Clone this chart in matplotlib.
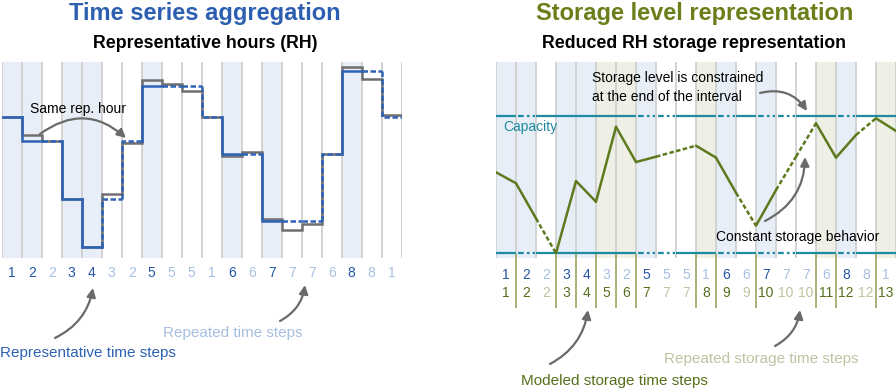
import matplotlib
matplotlib.use("Agg")
import matplotlib.pyplot as plt
from matplotlib.transforms import blended_transform_factory as blend
import numpy as np

# ---------------- data ----------------
rh_labels = [1, 2, 2, 3, 4, 3, 2, 5, 5, 5, 1, 6, 6, 7, 7, 7, 6, 8, 8, 1]
rep_values = [141, 117, 59, 11, 172, 104, 37, 187]          # value of each representative hour 1..8
orig_values = [141, 123, 117, 59, 11, 64, 115, 178, 174, 167,
               141, 102, 106, 39, 28, 34, 104, 191, 179, 143]
storage_labels = [1, 2, 2, 3, 4, 5, 6, 7, 7, 7, 8, 9, 9, 10, 10, 10, 11, 12, 12, 13]
storage_level = [58.9, 50.9, 25.4, 0.0, 52.5, 37.5, 91.9, 66.3, 70.2, 74.2, 78.2,
                 69.5, 44.0, 20.1, 46.0, 70.2, 94.5, 69.5, 86.0, 98.1, 88.9]
capacity = 100
min_level = 0
cap_dashed_slots = [1, 7, 8, 11, 13, 14, 17]

# ---------------- style ----------------
BLUE = '#2e62b5'
BLUE_DARK = '#2456a6'
BLUE_LIGHT = '#a6bfe0'
GRAY = '#6f6f6f'
OLIVE = '#5e7a1e'
OLIVE_TITLE = '#6a7f1a'
OLIVE_DARK = '#55701a'
OLIVE_LIGHT = '#bcc4a0'
OLIVE_SEP = '#a3ad6e'
TEAL = '#1d8ba0'
SHADE_B = '#e7eef7'
SHADE_O = '#eef0e5'
VLINE = '#d3d3d3'
ARROW = '#6a6a6a'
NARROW = ['Liberation Sans Narrow', 'Liberation Sans', 'DejaVu Sans']
SANS = ['Liberation Sans', 'DejaVu Sans']

plt.rcParams['font.family'] = SANS

W, H = 896, 389
fig = plt.figure(figsize=(W / 100, H / 100), dpi=100)

def first_flags(labels):
    seen, out = set(), []
    for l in labels:
        out.append(l not in seen)
        seen.add(l)
    return out

rh_first = first_flags(rh_labels)
st_first = first_flags(storage_labels)
n = len(rh_labels)

# overlay axes in pixel coordinates for titles / annotations
ax_o = fig.add_axes([0, 0, 1, 1], zorder=10)
ax_o.set_xlim(0, W)
ax_o.set_ylim(H, 0)
ax_o.axis('off')
ax_o.patch.set_alpha(0)

def panel(x0):
    ax = fig.add_axes([x0 / W, (H - 258) / H, 400 / W, 196 / H])
    ax.set_xlim(0, n)
    for s in ax.spines.values():
        s.set_visible(False)
    ax.set_xticks([])
    ax.set_yticks([])
    return ax

# ---------------- left panel ----------------
axL = panel(1.7)
axL.set_ylim(0, 196)
for i in range(n):
    if rh_first[i]:
        axL.axvspan(i, i + 1, color=SHADE_B, lw=0, zorder=0)
axL.vlines(np.arange(n + 1), 0, 196, color=VLINE, lw=1.4, zorder=1)
axL.stairs(orig_values, np.arange(n + 1), baseline=None, color=GRAY, lw=1.8, zorder=2)
prev = None
for i, lab in enumerate(rh_labels):
    v = rep_values[lab - 1]
    xs, ys = ([i, i + 1], [v, v]) if prev is None else ([i, i, i + 1], [prev, v, v])
    ls = '-' if rh_first[i] else (0, (2.2, 1.0))
    axL.plot(xs, ys, color=BLUE, lw=1.8, ls=ls, solid_joinstyle='miter', zorder=3)
    prev = v

trL = blend(axL.transData, ax_o.transData)
for i, lab in enumerate(rh_labels):
    ax_o.text(i + 0.5, 273, str(lab), transform=trL, ha='center', va='center',
              fontsize=10, color=BLUE_DARK if rh_first[i] else BLUE_LIGHT)

# ---------------- right panel ----------------
axR = panel(496)
axR.set_ylim(-3.4, 139)
for i in range(n):
    if rh_first[i]:
        axR.axvspan(i, i + 1, color=SHADE_B, lw=0, zorder=0)
    elif st_first[i]:
        axR.axvspan(i, i + 1, color=SHADE_O, lw=0, zorder=0)
axR.vlines(np.arange(n + 1), -3.4, 139, color=VLINE, lw=1.4, zorder=1)

for lvl in (capacity, min_level):
    for i in range(n):
        if i in cap_dashed_slots:
            axR.plot([i + 0.1, i + 1 - 0.05], [lvl, lvl], color=TEAL, lw=1.6,
                     ls=(0, (2.6, 1.4, 1.2, 1.4)), zorder=2)
        else:
            axR.plot([i, i + 1], [lvl, lvl], color=TEAL, lw=1.6, zorder=2,
                     solid_capstyle='butt')

for i in range(n):
    ls = '-' if st_first[i] else (0, (1.8, 1.0))
    axR.plot([i, i + 1], [storage_level[i], storage_level[i + 1]], color=OLIVE,
             lw=1.8, ls=ls, zorder=3, solid_capstyle='round')

axR.text(0.35, capacity - 8, 'Capacity', color=TEAL, fontsize=10, va='center', ha='left')

trR = blend(axR.transData, ax_o.transData)
for i in range(n):
    ax_o.text(i + 0.5, 275, str(rh_labels[i]), transform=trR, ha='center', va='center',
              fontsize=10, color=BLUE_DARK if rh_first[i] else BLUE_LIGHT)
    ax_o.text(i + 0.5, 293, str(storage_labels[i]), transform=trR, ha='center', va='center',
              fontsize=10, color=OLIVE_DARK if st_first[i] else OLIVE_LIGHT)
sep = [i for i in range(1, n) if st_first[i]]
ax_o.vlines(sep, 254, 308, transform=trR, color=OLIVE_SEP, lw=1.3)

# ---------------- titles ----------------
ax_o.text(205, 13, 'Time series aggregation', ha='center', va='center', fontsize=17,
          fontweight='bold', color='#2d5fb1', family=NARROW)
ax_o.text(205, 43, 'Representative hours (RH)', ha='center', va='center', fontsize=12.8,
          fontweight='bold', color='black', family=NARROW)
ax_o.text(695, 13, 'Storage level representation', ha='center', va='center', fontsize=17,
          fontweight='bold', color=OLIVE_TITLE, family=NARROW)
ax_o.text(694, 43, 'Reduced RH storage representation', ha='center', va='center', fontsize=12.8,
          fontweight='bold', color='black', family=NARROW)

# ---------------- annotations ----------------
def arrow(start, end, rad):
    ax_o.annotate('', xy=end, xytext=start,
                  arrowprops=dict(arrowstyle='-|>', color=ARROW, lw=1.6,
                                  connectionstyle=f'arc3,rad={rad}',
                                  shrinkA=0, shrinkB=0, mutation_scale=13))

ax_o.text(30, 109, 'Same rep. hour', fontsize=10, va='center', ha='left', color='black')
arrow((40, 134), (126, 138), -0.4)

ax_o.text(0, 353, 'Representative time steps', fontsize=11, va='center', ha='left', color=BLUE)
arrow((55, 338), (93, 288), 0.25)
ax_o.text(163, 333, 'Repeated time steps', fontsize=11, va='center', ha='left', color=BLUE_LIGHT)
arrow((280, 321), (305, 285), 0.25)

ax_o.text(592, 78, 'Storage level is constrained', fontsize=10, va='center', ha='left')
ax_o.text(592, 97, 'at the end of the interval', fontsize=10, va='center', ha='left')
arrow((760, 93), (807, 111), -0.35)

ax_o.text(716, 237, 'Constant storage behavior', fontsize=10, va='center', ha='left')
arrow((765, 221), (805, 157), 0.3)

ax_o.text(521, 381, 'Modeled storage time steps', fontsize=11, va='center', ha='left',
          color=OLIVE_DARK)
arrow((550, 364), (588, 310), 0.25)
ax_o.text(664, 359, 'Repeated storage time steps', fontsize=11, va='center', ha='left',
          color=OLIVE_LIGHT)
arrow((775, 346), (800, 310), 0.25)

fig.savefig('out.png', dpi=100)
